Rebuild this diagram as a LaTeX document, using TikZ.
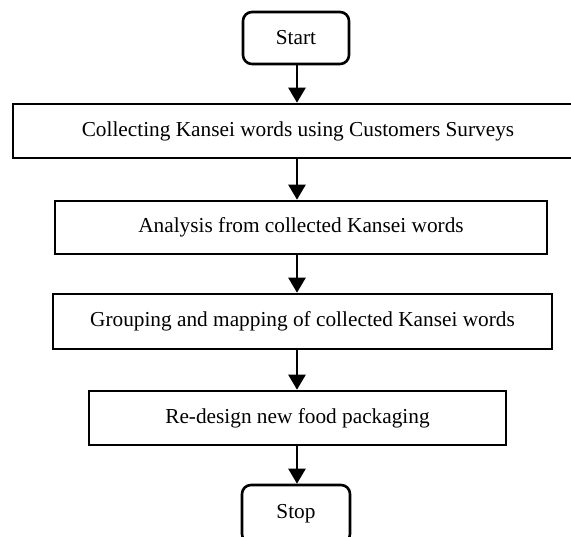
\documentclass[tikz,border=0pt]{standalone}
\usepackage{fontspec}
\setmainfont{Liberation Serif}
\usetikzlibrary{arrows.meta}
\begin{document}
\begin{tikzpicture}[x=1pt,y=1pt,
  box/.style={draw=black, line width=2.6pt, fill=white, inner sep=0pt, align=center,
    font=\fontsize{21.3}{25}\selectfont},
  term/.style={box, rounded corners=9pt},
  arr/.style={line width=2.5pt, -{Triangle[width=17pt,length=15pt]}}]
\useasboundingbox (0,0) rectangle (571,-537);
\node[term, minimum width=106pt, minimum height=52pt] (start) at (296,-38) {Start};
\node[box, minimum width=580pt, minimum height=54pt] (s1) at (303,-131) {\hspace*{-10pt}Collecting Kansei words using Customers Surveys};
\node[box, minimum width=492pt, minimum height=53pt] (s2) at (301,-227.5) {Analysis from collected Kansei words};
\node[box, minimum width=499pt, minimum height=55pt] (s3) at (302.5,-321.5) {Grouping and mapping of collected Kansei words};
\node[box, minimum width=417pt, minimum height=54pt] (s4) at (297.5,-418) {Re-design new food packaging};
\node[term, minimum width=108pt, minimum height=58pt] (stop) at (296,-514) {Stop};
\draw[arr] (start.south -| 297,0) -- (s1.north -| 297,0);
\draw[arr] (s1.south -| 297,0) -- (s2.north -| 297,0);
\draw[arr] (s2.south -| 297,0) -- (s3.north -| 297,0);
\draw[arr] (s3.south -| 297,0) -- (s4.north -| 297,0);
\draw[arr] (s4.south -| 297,0) -- (stop.north -| 297,0);
\end{tikzpicture}
\end{document}
